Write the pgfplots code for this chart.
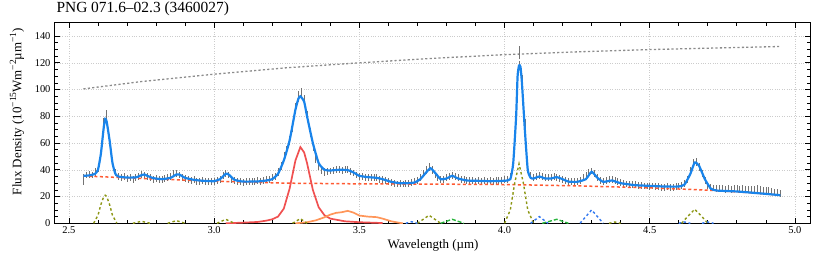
\documentclass[border=0pt]{standalone}
\usepackage{fontspec}
\setmainfont{Liberation Serif}
\usepackage{pgfplots}
\usepackage{pgfplotstable}
\pgfplotsset{compat=1.18}
\definecolor{fitblue}{RGB}{25,132,235}
\definecolor{pahred}{RGB}{240,80,80}
\definecolor{contred}{RGB}{255,90,50}
\definecolor{pahorange}{RGB}{255,150,90}
\definecolor{olive2}{RGB}{140,150,20}
\definecolor{green2}{RGB}{40,180,60}
\definecolor{blue2}{RGB}{50,120,240}
\definecolor{bbgrey}{RGB}{140,140,140}
\definecolor{errgrey}{RGB}{115,115,115}
\newcommand{\sups}[1]{\raisebox{0.9ex}{\fontsize{9.5}{10}\selectfont #1}}

\pgfplotstableread[row sep=\\]{
x y e\\
2.55 33 4\\ 2.56 36 2.5\\ 2.57 36.5 2.5\\ 2.58 36 2.5\\ 2.59 38 3\\ 2.60 41 3\\
2.61 55 4\\ 2.62 75 4\\ 2.63 80 5\\ 2.64 62 4\\ 2.65 45 3\\ 2.66 38 2.5\\
2.67 35 2.5\\ 2.68 34 2.5\\ 2.69 35 2.5\\ 2.70 33.5 2.5\\ 2.71 34 2.5\\ 2.72 33 2.5\\
2.73 34.5 2.5\\ 2.74 35 2.5\\ 2.75 36.5 2.5\\ 2.76 36 2.5\\ 2.77 35 2.5\\ 2.78 34 2.5\\
2.79 33 2.5\\ 2.80 33.5 2.5\\ 2.81 32.5 2.5\\ 2.82 33 2.5\\ 2.83 33.5 2.5\\ 2.84 34 2.5\\
2.85 35 2.5\\ 2.86 37 2.5\\ 2.87 37 2.5\\ 2.88 36 2.5\\ 2.89 34.5 2.5\\ 2.90 33.5 2.5\\
2.91 33 2.5\\ 2.92 32 2.5\\ 2.93 32.5 2.5\\ 2.94 31.5 2.5\\ 2.95 31 2.5\\ 2.96 32 2.5\\
2.97 31.5 2.5\\ 2.98 31 2.5\\ 2.99 31.5 2.5\\ 3.00 31 2.5\\ 3.01 32 2.5\\ 3.02 33 2.5\\
3.03 35.5 2.5\\ 3.04 37 2.5\\ 3.05 36 2.5\\ 3.06 33 2.5\\ 3.07 32 2.5\\ 3.08 31.5 2.5\\
3.09 31 2.5\\ 3.10 30.5 2.5\\ 3.11 31.5 2.5\\ 3.12 31 2.5\\ 3.13 31.5 2.5\\ 3.14 31 2.5\\
3.15 32 2.5\\ 3.16 31.5 2.5\\ 3.17 32 2.5\\ 3.18 32.5 2.5\\ 3.19 33 2.5\\ 3.20 34 2.5\\
3.21 35 2.5\\ 3.22 38 3\\ 3.23 43 3\\ 3.24 50 3\\ 3.25 55 3\\ 3.26 62 3.5\\
3.27 72 3.5\\ 3.28 86 4\\ 3.29 95 4\\ 3.30 97 4\\ 3.31 92 4\\ 3.32 80 4\\
3.33 68 3.5\\ 3.34 57 3\\ 3.35 48 3\\ 3.36 43 3\\ 3.37 40 3\\ 3.38 38 3\\
3.39 38.5 2.5\\ 3.40 39 2.5\\ 3.41 39.5 2.5\\ 3.42 40 2.5\\ 3.43 40 2.5\\ 3.44 39.5 2.5\\
3.45 40 2.5\\ 3.46 40 2.5\\ 3.47 38.5 2.5\\ 3.48 37.5 2.5\\ 3.49 36 2.5\\ 3.50 35 2.5\\
3.51 35 2.5\\ 3.52 34.5 2.5\\ 3.53 34 2.5\\ 3.54 34.5 2.5\\ 3.55 34 2.5\\ 3.56 34 2.5\\
3.57 33 2.5\\ 3.58 32.5 2.5\\ 3.59 32 2.5\\ 3.60 31 2.5\\ 3.61 30.5 2.5\\ 3.62 30 2.5\\
3.63 29.5 2.5\\ 3.64 30 2.5\\ 3.65 29.5 2.5\\ 3.66 30 2.5\\ 3.67 30 2.5\\ 3.68 30.5 2.5\\
3.69 31 2.5\\ 3.70 32 2.5\\ 3.71 34 2.5\\ 3.72 37 2.5\\ 3.73 40 3\\ 3.74 42 3\\
3.75 40 3\\ 3.76 36 2.5\\ 3.77 34 2.5\\ 3.78 33 2.5\\ 3.79 33 2.5\\ 3.80 34 2.5\\
3.81 35 2.5\\ 3.82 35.5 2.5\\ 3.83 35 2.5\\ 3.84 34 2.5\\ 3.85 33 2.5\\ 3.86 32.5 2.5\\
3.87 32 2.5\\ 3.88 32 2.5\\ 3.89 32 2.5\\ 3.90 31.5 2.5\\ 3.91 32 2.5\\ 3.92 31.5 2.5\\
3.93 32 2.5\\ 3.94 31.5 2.5\\ 3.95 32 2.5\\ 3.96 31.5 2.5\\ 3.97 32 2.5\\ 3.98 32 2.5\\
3.99 32 2.5\\ 4.00 32.5 2.5\\ 4.01 33 2.5\\ 4.02 35 2.5\\ 4.03 48 3\\ 4.04 82 3\\
4.05 118 3\\ 4.06 108 3\\ 4.07 75 3\\ 4.08 42 3\\ 4.09 36 2.5\\ 4.10 34 2.5\\
4.11 35 2.5\\ 4.12 35.5 2.5\\ 4.13 35 2.5\\ 4.14 34 2.5\\ 4.15 34 2.5\\ 4.16 34.5 2.5\\
4.17 35 2.5\\ 4.18 34.5 2.5\\ 4.19 33.5 2.5\\ 4.20 32.5 2.5\\ 4.21 32 2.5\\ 4.22 31.5 2.5\\
4.23 31 2.5\\ 4.24 31 2.5\\ 4.25 31.5 2.5\\ 4.26 32 2.5\\ 4.27 34 2.5\\ 4.28 36 2.5\\
4.29 38 2.5\\ 4.30 39 2.5\\ 4.31 37 2.5\\ 4.32 34 2.5\\ 4.33 32 2.5\\ 4.34 31.5 2.5\\
4.35 32 2.5\\ 4.36 32.5 2.5\\ 4.37 32.5 2.5\\ 4.38 32 2.5\\ 4.39 31 2.5\\ 4.40 30.5 2.5\\
4.41 30 2.5\\ 4.42 29.5 2.5\\ 4.43 29.5 2.5\\ 4.44 29 2.5\\ 4.45 29 2.5\\ 4.46 28.5 2.5\\
4.47 28.5 2.5\\ 4.48 28 2.5\\ 4.49 28 2.5\\ 4.50 27.5 2.5\\ 4.51 28 2.5\\ 4.52 27.5 2.5\\
4.53 27.5 2.5\\ 4.54 27 2.5\\ 4.55 27 2.5\\ 4.56 27.5 2.5\\ 4.57 27 2.5\\ 4.58 27 2.5\\
4.59 27.5 2.5\\ 4.60 28 2.5\\ 4.61 28.5 2.5\\ 4.62 30 2.5\\ 4.63 33 2.5\\ 4.64 39 3\\
4.65 45 3\\ 4.66 46 3\\ 4.67 42 3\\ 4.68 37 2.5\\ 4.69 32 2.5\\ 4.70 28 2.5\\
4.71 27 2.5\\ 4.72 26.5 2.5\\ 4.73 26 2.5\\ 4.74 26 2.5\\ 4.75 26 2.5\\ 4.76 25.5 2.5\\
4.77 26 2.5\\ 4.78 25.5 2.5\\ 4.79 26 2.5\\ 4.80 26 2.5\\ 4.81 25.5 2.5\\ 4.82 26 2.5\\
4.83 25.5 2.5\\ 4.84 25.5 2.5\\ 4.85 25.5 2.5\\ 4.86 25.5 2.5\\ 4.87 26 2.5\\ 4.88 25.5 2.5\\
4.89 25 2.5\\ 4.90 25 2.5\\ 4.91 24.5 2.5\\ 4.92 24 2.5\\ 4.93 23.5 2.5\\ 4.94 23 2.5\\
4.95 22.5 2.5\\
}\obsdata

\pgfplotstableread[row sep=\\]{
x y\\
2.55 35.5\\ 2.57 35.8\\ 2.59 37\\ 2.60 40\\ 2.61 52\\ 2.62 72\\ 2.625 78\\ 2.63 76\\
2.64 62\\ 2.65 45\\ 2.66 37\\ 2.67 35\\ 2.70 34.2\\ 2.73 34.3\\ 2.75 36\\ 2.76 36.5\\
2.77 35.5\\ 2.79 33.8\\ 2.82 33\\ 2.85 34\\ 2.87 36.5\\ 2.88 36.5\\ 2.90 34\\ 2.93 32.5\\
2.96 31.8\\ 3.00 31.5\\ 3.02 33\\ 3.04 37\\ 3.05 36.5\\ 3.07 32.5\\ 3.10 31.2\\ 3.15 31.3\\
3.18 32\\ 3.20 33\\ 3.22 37\\ 3.24 47\\ 3.26 62\\ 3.28 85\\ 3.29 93\\ 3.297 95\\
3.31 91\\ 3.32 80\\ 3.34 60\\ 3.36 45\\ 3.38 40\\ 3.40 39.5\\ 3.43 40\\ 3.46 39.8\\
3.48 38\\ 3.50 35.5\\ 3.53 34.5\\ 3.56 34\\ 3.58 33\\ 3.61 31\\ 3.64 30\\ 3.67 30\\
3.69 30.5\\ 3.71 33\\ 3.73 38\\ 3.745 41.2\\ 3.76 38\\ 3.78 33\\ 3.80 33.5\\ 3.82 35.5\\
3.84 33.5\\ 3.87 32\\ 3.90 31.8\\ 3.95 31.5\\ 4.00 31.8\\ 4.02 33\\ 4.03 45\\ 4.04 80\\
4.045 110\\ 4.05 118\\ 4.055 117\\ 4.06 105\\ 4.07 70\\ 4.08 40\\ 4.09 34\\ 4.10 33.5\\
4.12 35\\ 4.14 33.5\\ 4.16 33.5\\ 4.18 34.5\\ 4.20 33\\ 4.22 31.2\\ 4.25 31\\ 4.28 33\\
4.30 38.5\\ 4.32 34\\ 4.34 31\\ 4.37 32\\ 4.40 30\\ 4.45 28.5\\ 4.50 28\\ 4.55 27.5\\
4.60 27.5\\ 4.62 29\\ 4.64 37\\ 4.655 45.5\\ 4.67 43\\ 4.69 33\\ 4.71 26\\ 4.73 24.5\\
4.80 23.8\\ 4.90 22\\ 4.95 21\\
}\fitdata

\begin{document}
\begin{tikzpicture}
\begin{axis}[
  scale only axis, width=755bp, height=200.6bp,
  xmin=2.452, xmax=5.052, ymin=0, ymax=150,
  xtick={2.5,3.0,...,5.0}, ytick={0,20,...,140},
  minor x tick num=4, minor y tick num=3,
  tick align=inside, xtick pos=both, ytick pos=both,
  major tick length=5bp, minor tick length=3bp,
  axis line style={line width=1bp}, tick style={black, line width=0.7bp},
  grid=major, major grid style={dotted, gray!40, line width=0.5bp},
  /pgf/number format/assume math mode=true,
  ticklabel style={font=\fontsize{10.5}{12}\selectfont},
  xticklabel style={/pgf/number format/.cd, fixed, fixed zerofill, precision=1},
  yticklabel style={xshift=-1bp},
  xlabel={Wavelength (µm)},
  ylabel={Flux Density (10\sups{−15}Wm\sups{−2}µm\sups{−1})},
  label style={font=\fontsize{13}{15}\selectfont},
  xlabel style={at={(axis description cs:0.5007,-0.128)}, anchor=base},
  ylabel style={at={(axis description cs:-0.0503,0.557)}, anchor=center},
  title={PNG 071.6–02.3 (3460027)},
  title style={at={(axis description cs:0,1)}, anchor=south west, xshift=-2bp, yshift=-2.5bp, font=\fontsize{15.5}{17}\selectfont},
  clip=true,
]
% blackbody-like grey dotted
\addplot[bbgrey, line width=1.3bp, dash pattern=on 2.2bp off 2.2bp] coordinates {
(2.55,100.5) (2.75,106) (3.0,111.5) (3.25,116.3) (3.5,120) (3.75,123.3) (4.0,126.1) (4.25,128.2) (4.5,129.9) (4.75,131.2) (4.95,132.2)};
\addplot[draw=none, mark=none, error bars/.cd, y dir=both, y fixed=5, error bar style={draw=errgrey, solid, line width=0.6bp}, error mark=none] coordinates {(4.05,127.5)};
% observed data
\addplot[draw=none, mark=none, error bars/.cd, y dir=both, y explicit, error bar style={draw=errgrey, solid, line width=0.6bp}, error mark=none] table[x=x,y=y,y error=e]{\obsdata};
% continuum
\addplot[contred, line width=1.5bp, dash pattern=on 3bp off 2.5bp] coordinates {
(2.55,35.4) (2.75,33.5) (3.0,31.5) (3.25,30) (3.5,29.5) (3.75,29.3) (4.0,29) (4.25,28) (4.5,26.5) (4.7,24.8) (4.85,22.8) (4.95,21)};
% PAH 3.3
\addplot[pahred, line width=1.7bp] coordinates {
(3.04,0) (3.10,0.5) (3.15,1) (3.18,2) (3.20,3) (3.22,5) (3.24,11) (3.26,26) (3.28,47) (3.297,57) (3.31,53) (3.32,45) (3.33,35) (3.34,25) (3.36,12) (3.38,6) (3.40,3.5) (3.45,1.5) (3.50,0.8) (3.58,0.2)};
% PAH 3.4
\addplot[pahorange, line width=1.7bp] coordinates {
(3.28,0) (3.32,0.8) (3.35,2.2) (3.38,4.5) (3.40,6.5) (3.42,7.8) (3.44,8.3) (3.46,9.3) (3.48,8) (3.50,5.8) (3.53,5) (3.56,4.6) (3.58,3.5) (3.61,1.5) (3.64,0.3) (3.65,0)};
% gaussian lines (olive)
\pgfplotsset{olv/.style={olive2, line width=1.4bp, dash pattern=on 2.5bp off 2.5bp}}
\addplot[olv] coordinates {(2.585,0) (2.60,6) (2.61,14) (2.62,20) (2.625,21) (2.63,20) (2.64,14) (2.65,6) (2.665,0)};
\addplot[olv] coordinates {(2.72,0) (2.75,1.5) (2.78,0)};
\addplot[olv] coordinates {(2.84,0) (2.87,2) (2.90,0)};
\addplot[olv] coordinates {(3.01,0) (3.04,3) (3.07,0)};
\addplot[olv] coordinates {(3.27,0) (3.297,3.5) (3.32,0)};
\addplot[olv] coordinates {(3.70,0) (3.72,3) (3.74,6) (3.76,3) (3.78,0)};
\addplot[olv] coordinates {(4.00,0) (4.02,10) (4.035,30) (4.05,44.5) (4.065,30) (4.08,10) (4.10,0)};
\addplot[olv] coordinates {(4.36,0) (4.38,1) (4.40,0)};
\addplot[olv] coordinates {(4.61,0) (4.63,5) (4.655,10.5) (4.68,5) (4.70,0)};
% green lines
\addplot[green2, line width=1.4bp, dash pattern=on 4bp off 2bp] coordinates {(3.78,0) (3.82,3) (3.86,0)};
\addplot[green2, line width=1.4bp, dash pattern=on 4bp off 2bp] coordinates {(4.13,0) (4.18,3) (4.22,0)};
% blue dashed lines
\pgfplotsset{bld/.style={blue2, line width=1.4bp, dash pattern=on 2.5bp off 2.5bp}}
\addplot[bld] coordinates {(3.66,0) (3.68,1.2) (3.70,0)};
\addplot[bld] coordinates {(4.09,0) (4.12,5) (4.15,0)};
\addplot[bld] coordinates {(4.26,0) (4.28,5) (4.30,10) (4.32,5) (4.34,0)};
\addplot[bld] coordinates {(4.60,0) (4.62,1) (4.64,0)};
\addplot[bld] coordinates {(4.68,0) (4.70,1) (4.72,0)};
% total fit
\addplot[fitblue, line width=2.2bp, smooth, tension=0.3] table[x=x,y=y]{\fitdata};
\end{axis}
\pgfresetboundingbox
\path ([shift={(-55bp,-32.7bp)}]current axis.south west) rectangle ([shift={(20bp,22.7bp)}]current axis.north east);
\end{tikzpicture}
\end{document}
